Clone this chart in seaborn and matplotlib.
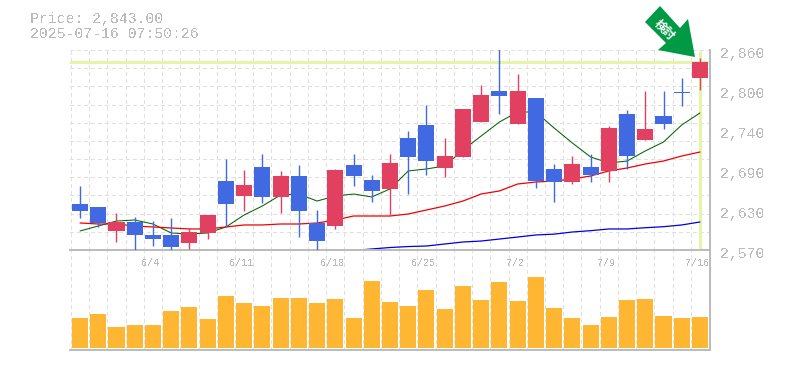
import numpy as np
import matplotlib
matplotlib.use("Agg")
import matplotlib.pyplot as plt
from matplotlib.patches import Polygon
import seaborn as sns

# daily prices, oldest first
opens = [2637, 2632, 2598, 2611, 2592, 2592, 2580, 2595, 2670, 2648, 2690, 2647, 2677, 2609, 2605, 2693, 2671.5, 2658.5,
         2732, 2751, 2689, 2705, 2756, 2800.5, 2753, 2790, 2687.5, 2669, 2690, 2685, 2767, 2730, 2764, 2799.7, 2819.5]
closes = [2627, 2609, 2611, 2592, 2586, 2574.5, 2596, 2621, 2637, 2664, 2647, 2677, 2627, 2583, 2686, 2677, 2655.5, 2696,
          2705, 2699, 2706, 2774.5, 2795, 2793, 2800.5, 2670, 2668.5, 2695, 2679, 2747, 2706, 2745.5, 2753, 2798.3, 2843]
highs = [2663, 2632, 2624, 2618, 2612, 2616, 2602, 2621, 2702, 2686, 2709, 2685, 2693, 2628, 2687.5, 2709, 2679, 2709,
         2743, 2780, 2732, 2774.5, 2809, 2861, 2825, 2790, 2695, 2706, 2709, 2750, 2773, 2800.5, 2800.5, 2819.5, 2848]
lows = [2616, 2603, 2582, 2570, 2576, 2570, 2571.5, 2586, 2603, 2627, 2638, 2624, 2589, 2570, 2600.5, 2663, 2640, 2621,
        2651, 2679, 2676, 2705, 2755.5, 2767, 2753, 2660, 2640, 2666, 2669, 2669, 2687.5, 2729.5, 2745.5, 2779, 2802]
ma_short = [2597.6, 2604.8, 2612, 2613.5, 2607.7, 2594.7, 2593.2, 2594.7, 2603.3, 2620.8, 2633.8, 2649.8, 2651.2, 2641,
            2648.3, 2651.2, 2646.9, 2658.5, 2684.6, 2687.5, 2691.8, 2715, 2735.3, 2755.6, 2770.1, 2770.1, 2746.9, 2725.2,
            2704.9, 2696.2, 2699, 2713.6, 2726.6, 2751.3, 2768.7]
ma_mid = [2609.2, 2607.7, 2607.7, 2604.8, 2603.4, 2601.9, 2600.5, 2600.5, 2603.4, 2606.3, 2606.3, 2607.7, 2607.7, 2609.2,
          2613.5, 2619.3, 2619.3, 2619.3, 2622.2, 2628, 2633.8, 2641, 2651.2, 2655.6, 2665.7, 2668.6, 2670, 2673, 2677.3,
          2684.6, 2688.9, 2694.7, 2699, 2706.3, 2712.1]
ma_long = [np.nan] * 15 + [2569.3, 2571.5, 2573.6, 2575, 2575.8, 2578.7, 2581.6, 2583, 2585.9, 2588.8, 2591.8, 2593,
                           2596.1, 2598, 2600.5, 2600.5, 2602.3, 2603.8, 2606.3, 2610.6]
volume = [30, 34, 21, 23, 23, 37, 41, 29, 52, 45, 42, 50, 50, 45, 49, 30, 67, 46,
          42, 58, 39, 62, 48, 66, 47, 71, 40, 30, 23, 31, 48, 49, 32, 30, 31]

date_labels = ["6/4", "6/11", "6/18", "6/25", "7/2", "7/9", "7/16"]
date_index = [4, 9, 14, 19, 24, 29, 34]
price_ticks = [2860, 2802, 2744, 2686, 2628, 2570]
price_labels = ["2,860", "2,800", "2,740", "2,690", "2,630", "2,570"]
last_price = 2843
title_lines = ["Price: 2,843.00", "2025-07-16 07:50:26"]
arrow_text = "検討"

RED = "#e24060"
BLUE = "#4169e1"
GREY = "#bbbbbb"
LIME = "#e4f5a8"

sns.set_style("white")
plt.rcParams["font.family"] = ["Liberation Mono", "Noto Sans CJK JP", "DejaVu Sans"]
plt.rcParams["text.antialiased"] = False

days = np.arange(len(closes))
W, H = 785, 370

fig = plt.figure(figsize=(W / 100, H / 100), dpi=100)
ax_vol = fig.add_axes([70 / W, 1 - 350 / H, 640 / W, 100 / H], zorder=0)
ax = fig.add_axes([70 / W, 1 - 250 / H, 640 / W, 200 / H], zorder=1)
ax.patch.set_alpha(0)

# volume
sns.barplot(x=days, y=volume, native_scale=True, color="#ffb733", saturation=1, width=0.88,
            errorbar=None, linewidth=0, ax=ax_vol)
ax_vol.set_ylim(-2, 98)
ax_vol.set_yticks([])
ax_vol.set_xlabel("")
ax_vol.set_ylabel("")

# last price markers
ax.axhline(last_price, color=LIME, lw=2.2, zorder=1)
ax.vlines(days[-1], 2571.5, 2858.5, color=LIME, lw=2.2, zorder=1)

# moving averages
sns.lineplot(x=days, y=ma_short, color="#006400", lw=0.75, ax=ax, zorder=2)
sns.lineplot(x=days, y=ma_mid, color="#f00000", lw=0.9, ax=ax, zorder=2)
sns.lineplot(x=days, y=ma_long, color="#0000e0", lw=0.9, ax=ax, zorder=2)

# candles
colors = [RED if c > o else BLUE for o, c in zip(opens, closes)]
ax.vlines(days, lows, highs, colors=colors, lw=1.0, zorder=3)
ax.bar(days, np.abs(np.array(closes) - np.array(opens)), bottom=np.minimum(opens, closes), width=0.88,
       color=colors, linewidth=0, zorder=4)

# grid and frame
for a in (ax, ax_vol):
    a.set_xlim(-0.55, 34.55)
    a.set_xticks(days - 0.5, minor=True)
    a.grid(which="minor", axis="x", color="#e0e0e0", ls=(0, (3, 3)), lw=0.72, antialiased=False)
    a.set_axisbelow(True)
    a.spines[["left", "top"]].set_visible(False)
    a.spines[["right", "bottom"]].set_color(GREY)
    a.spines[["right", "bottom"]].set_linewidth(1.4)
    a.tick_params(which="both", length=0)

ax.set_ylim(2570, 2860)
ax.set_yticks(np.linspace(2570, 2860, 12), minor=True)
ax.grid(which="minor", axis="y", color="#e0e0e0", ls=(0, (3, 3)), lw=0.72, antialiased=False)
ax.set_yticks([])
ax.set_xticks([i - 0.15 for i in date_index], date_labels, fontsize=7.2, color=GREY)
ax.tick_params(axis="x", which="major", pad=6)
ax_vol.set_xticks([])

# price labels sit just under their gridline
for tick, label in zip(price_ticks, price_labels):
    ax.annotate(label, xy=(1, tick), xycoords=ax.get_yaxis_transform(), xytext=(7.5, -2.9),
                textcoords="offset points", va="center", ha="left", fontsize=10.6, color=GREY)

fig.text(30 / W, 1 - 19 / H, title_lines[0], fontsize=10.75, color=GREY, va="center")
fig.text(30 / W, 1 - 34 / H, title_lines[1], fontsize=10.75, color=GREY, va="center")

# green arrow badge
arrow_px = [(660, 6), (645, 22), (666, 43), (658, 50), (695, 57), (688, 19), (680, 28)]
fig.add_artist(Polygon([(x / W, 1 - y / H) for x, y in arrow_px], closed=True, transform=fig.transFigure,
                       facecolor="#009944", edgecolor="none", zorder=5))
fig.text(664.5 / W, 1 - 30 / H, arrow_text, fontsize=8.5, color="white", fontweight="bold", rotation=-45,
         rotation_mode="anchor", ha="center", va="center", family=["Noto Sans CJK JP"], antialiased=True, zorder=6)

fig.savefig("out.png", dpi=100, facecolor="white")
